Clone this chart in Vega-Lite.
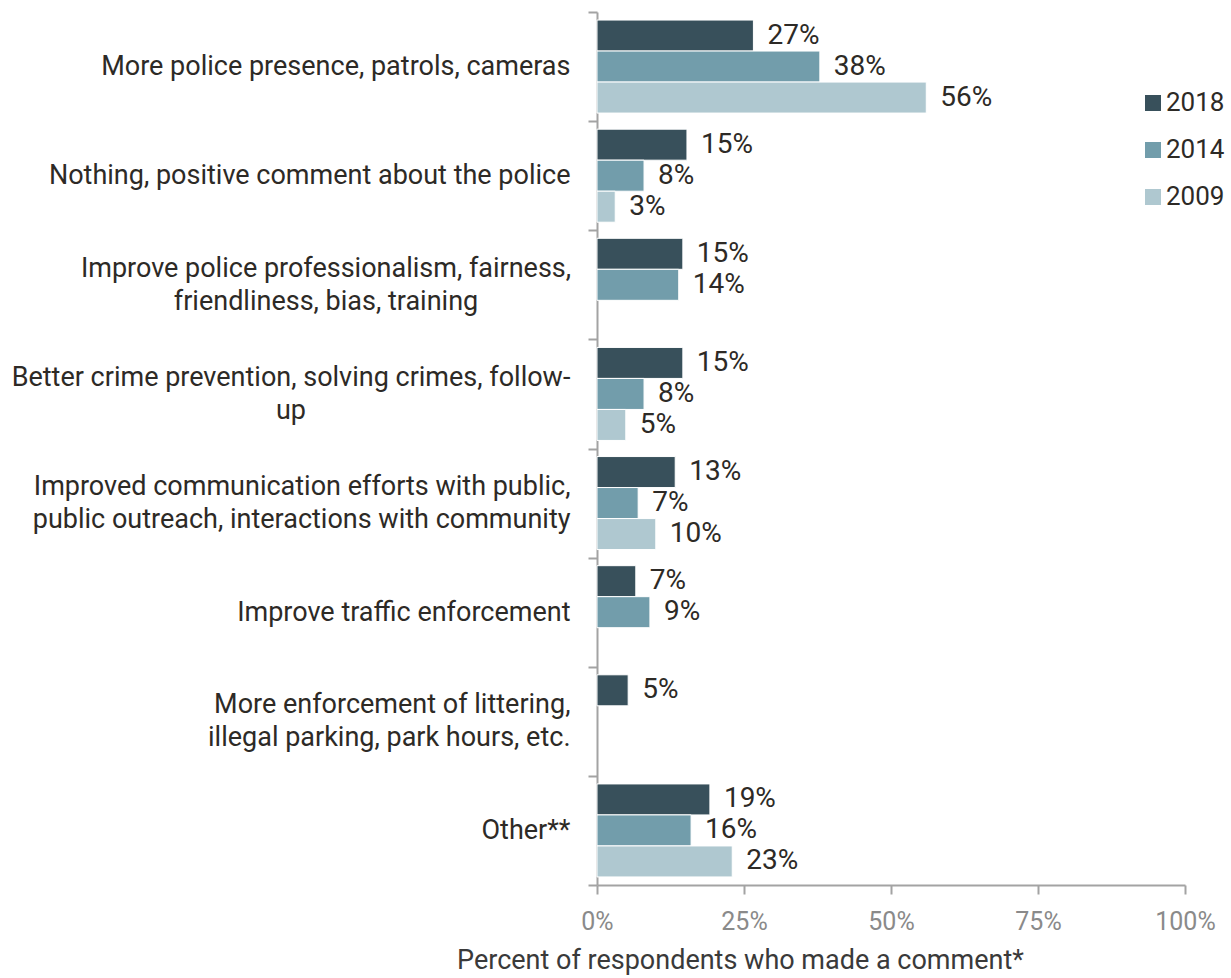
{
  "$schema": "https://vega.github.io/schema/vega-lite/v6.json",
  "autosize": {"type": "none"},
  "padding": {"left": 597, "top": 12, "right": 46, "bottom": 93},
  "width": 588,
  "height": 873,
  "background": "white",
  "config": {
    "view": {"stroke": null},
    "font": "Roboto"
  },
  "data": {
    "values": [
      {"category": "More police presence, patrols, cameras", "year": "2018", "value": 0.266},
      {"category": "More police presence, patrols, cameras", "year": "2014", "value": 0.379},
      {"category": "More police presence, patrols, cameras", "year": "2009", "value": 0.560},
      {"category": "Nothing, positive comment about the police", "year": "2018", "value": 0.153},
      {"category": "Nothing, positive comment about the police", "year": "2014", "value": 0.080},
      {"category": "Nothing, positive comment about the police", "year": "2009", "value": 0.031},
      {"category": "Improve police professionalism, fairness,|friendliness, bias, training", "year": "2018", "value": 0.146},
      {"category": "Improve police professionalism, fairness,|friendliness, bias, training", "year": "2014", "value": 0.139},
      {"category": "Better crime prevention, solving crimes, follow-|up", "year": "2018", "value": 0.146},
      {"category": "Better crime prevention, solving crimes, follow-|up", "year": "2014", "value": 0.080},
      {"category": "Better crime prevention, solving crimes, follow-|up", "year": "2009", "value": 0.049},
      {"category": "Improved communication efforts with public,|public outreach, interactions with community", "year": "2018", "value": 0.133},
      {"category": "Improved communication efforts with public,|public outreach, interactions with community", "year": "2014", "value": 0.070},
      {"category": "Improved communication efforts with public,|public outreach, interactions with community", "year": "2009", "value": 0.100},
      {"category": "Improve traffic enforcement", "year": "2018", "value": 0.066},
      {"category": "Improve traffic enforcement", "year": "2014", "value": 0.090},
      {"category": "More enforcement of littering,|illegal parking, park hours, etc.", "year": "2018", "value": 0.053},
      {"category": "Other**", "year": "2018", "value": 0.192},
      {"category": "Other**", "year": "2014", "value": 0.160},
      {"category": "Other**", "year": "2009", "value": 0.230}
    ]
  },
  "encoding": {
    "y": {
      "field": "category",
      "type": "nominal",
      "sort": null,
      "scale": {"paddingInner": 0, "paddingOuter": 0},
      "axis": {
        "title": null,
        "labelExpr": "isString(datum.value) ? split(datum.value, '|') : ''",
        "labelOffset": {"expr": "isString(datum.value) && indexof(datum.value, '|') >= 0 ? -16.5 : 0"},
        "labelAlign": {"condition": {"test": "isString(datum.value) && (indexof(datum.value, 'Improve police prof') == 0 || indexof(datum.value, 'Better crime') == 0)", "value": "center"}, "value": "right"},
        "labelPadding": {"expr": "isString(datum.value) && indexof(datum.value, 'Improve police prof') == 0 ? 262.5 : isString(datum.value) && indexof(datum.value, 'Better crime') == 0 ? 297.5 : 18"},
        "labelFontSize": 27,
        "labelColor": "#2d2a26",
        "labelFont": "Roboto",
        "labelLimit": 0,
        "labelLineHeight": 33,
        "tickBand": "extent",
        "tickSize": 9,
        "tickWidth": 2,
        "tickColor": "#a3a3a3",
        "domainColor": "#a3a3a3",
        "domainWidth": 2
      }
    },
    "yOffset": {
      "field": "year",
      "type": "nominal",
      "sort": ["2018", "2014", "2009"],
      "scale": {"domain": ["2018", "2014", "2009"], "paddingInner": 0, "paddingOuter": 0.26}
    },
    "x": {
      "field": "value",
      "type": "quantitative",
      "scale": {"domain": [0, 1], "nice": false},
      "axis": {
        "values": [0, 0.25, 0.5, 0.75, 1],
        "format": ".0%",
        "grid": false,
        "labelFontSize": 25,
        "labelColor": "#8a8a8a",
        "labelFont": "Roboto",
        "labelFlush": false,
        "labelPadding": 15,
        "tickSize": 9,
        "tickWidth": 2,
        "tickColor": "#a3a3a3",
        "domainColor": "#a3a3a3",
        "domainWidth": 2,
        "title": "Percent of respondents who made a comment*",
        "titleFontSize": 27,
        "titleFontWeight": "normal",
        "titleColor": "#3a3a3a",
        "titleFont": "Roboto",
        "titleX": 143,
        "titleAlign": "center",
        "titlePadding": 13
      }
    }
  },
  "layer": [
    {
      "mark": {"type": "bar", "stroke": "white", "strokeWidth": 1},
      "encoding": {
        "color": {
          "field": "year",
          "type": "nominal",
          "scale": {"domain": ["2018", "2014", "2009"], "range": ["#38505b", "#729dab", "#afc8d0"]},
          "legend": {
            "title": null,
            "orient": "none",
            "legendX": 543,
            "legendY": 78,
            "padding": 0,
            "symbolType": "square",
            "symbolSize": 256,
            "symbolStrokeWidth": 0,
            "labelFontSize": 26,
            "labelColor": "#2d2a26",
            "labelFont": "Roboto",
            "labelOffset": 0,
            "rowPadding": 21
          }
        }
      }
    },
    {
      "mark": {"type": "text", "align": "left", "baseline": "middle", "dx": 14, "fontSize": 28, "font": "Roboto", "color": "#2d2a26"},
      "encoding": {
        "text": {"field": "value", "type": "quantitative", "format": ".0%"}
      }
    }
  ]
}
